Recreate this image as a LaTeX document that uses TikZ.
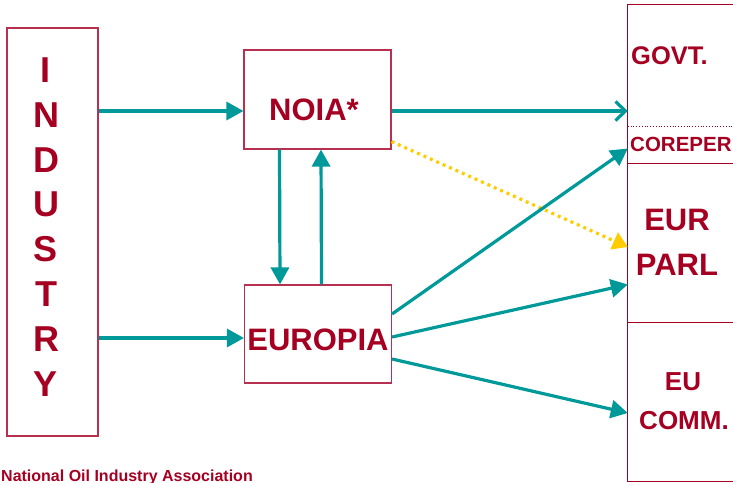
\documentclass[tikz,border=0pt]{standalone}
\usepackage{fontspec}
\setmainfont{Liberation Sans}
\usetikzlibrary{arrows.meta}
\definecolor{dred}{HTML}{A50021}
\definecolor{boxred}{HTML}{B8304F}
\definecolor{teal2}{HTML}{009999}
\definecolor{gold}{HTML}{FFCC00}
\tikzset{
  box/.style={draw=boxred, line width=1.1pt, rectangle, inner sep=0pt},
  lbl/.style={text=dred, font=\bfseries, inner sep=0pt},
  arr/.style={draw=teal2, line width=3.2pt, -{Triangle[length=17pt,width=18pt]}},
  openarr/.style={draw=teal2, line width=3.2pt, -{Straight Barb[length=10pt,width=19pt,line width=3.2pt]}},
  yarr/.style={draw=gold, line width=3.2pt, dash pattern=on 3pt off 4pt, -{Triangle[length=15pt,width=18pt]}},
}
\begin{document}
\begin{tikzpicture}[x=1pt,y=-1pt]
\useasboundingbox (0,0) rectangle (733,482);
% boxes
\node[box, minimum width=91pt, minimum height=408pt] (industry) at (52.5,232) {};
\node[box, minimum width=147pt, minimum height=99pt] (noia) at (317.5,99.5) {};
\node[box, minimum width=147pt, minimum height=98pt] (europia) at (318,334) {};
% right column sections
\node[inner sep=0pt, minimum width=106pt, minimum height=122pt] (govt) at (681,66) {};
\node[inner sep=0pt, minimum width=106pt, minimum height=37pt] (coreper) at (681,145.5) {};
\node[inner sep=0pt, minimum width=106pt, minimum height=159pt] (parl) at (681,243.5) {};
\node[inner sep=0pt, minimum width=106pt, minimum height=158pt] (comm) at (681,402) {};
\draw[draw=dred, line width=1.1pt] (govt.north west) rectangle (comm.south east);
\draw[draw=dred, line width=0.8pt, dotted] (coreper.north west) -- (coreper.north east);
\draw[draw=dred, line width=1.1pt] (parl.north west) -- (parl.north east);
\draw[draw=dred, line width=1.1pt] (comm.north west) -- (comm.north east);
% texts
\foreach \l [count=\i] in {I,N,D,U,S,T,R,Y}
  \node[lbl, font=\bfseries\fontsize{36}{36}\selectfont] (ind\i) at (46,{70+44.9*(\i-1)}) {\l};
\node[lbl, font=\bfseries\fontsize{31}{31}\selectfont] (noiat) at (314,109.5) {NOIA*};
\node[lbl, font=\bfseries\fontsize{31}{31}\selectfont] (europiat) at (318,339.5) {EUROPIA};
\node[lbl, font=\bfseries\fontsize{25.5}{25.5}\selectfont, anchor=west] (govtt) at (631,56) {GOVT.};
\node[lbl, font=\bfseries\fontsize{20.5}{20.5}\selectfont, anchor=west] (corepert) at (630,144) {COREPER};
\node[lbl, font=\bfseries\fontsize{31}{31}\selectfont] (eurt) at (677,220) {EUR};
\node[lbl, font=\bfseries\fontsize{31}{31}\selectfont] (parlt) at (677,265) {PARL};
\node[lbl, font=\bfseries\fontsize{26}{26}\selectfont] (eut) at (683,382) {EU};
\node[lbl, font=\bfseries\fontsize{26}{26}\selectfont] (commt) at (684,421) {COMM.};
\node[lbl, font=\bfseries\fontsize{16}{16}\selectfont, anchor=base west] (foot) at (1,481.5) {National Oil Industry Association};
% connectors
\draw[arr] ([yshift=-11.5pt]industry.east |- noia.west) -- ([yshift=-11.5pt]noia.west);
\draw[arr] ([yshift=-4pt]industry.east |- europia.west) -- ([yshift=-4pt]europia.west);
\draw[openarr] ([yshift=-11.5pt]noia.east) -- ([yshift=-11.5pt]noia.east -| govt.west);
\draw[arr] ([xshift=-38pt]noia.south) -- ([xshift=-38pt]europia.north);
\draw[arr] ([xshift=3.5pt]europia.north) -- ([xshift=3.5pt]noia.south);
\draw[yarr] ([yshift=8pt]noia.south east) -- ([yshift=-3.5pt]parl.west);
\draw[arr] ([yshift=20pt]europia.east) -- ([yshift=-3pt]coreper.west);
\draw[arr] ([yshift=-3pt]europia.east) -- ([yshift=-41pt]parl.west);
\draw[arr] ([yshift=-25pt]europia.east) -- ([yshift=-11pt]comm.west);
\end{tikzpicture}
\end{document}
